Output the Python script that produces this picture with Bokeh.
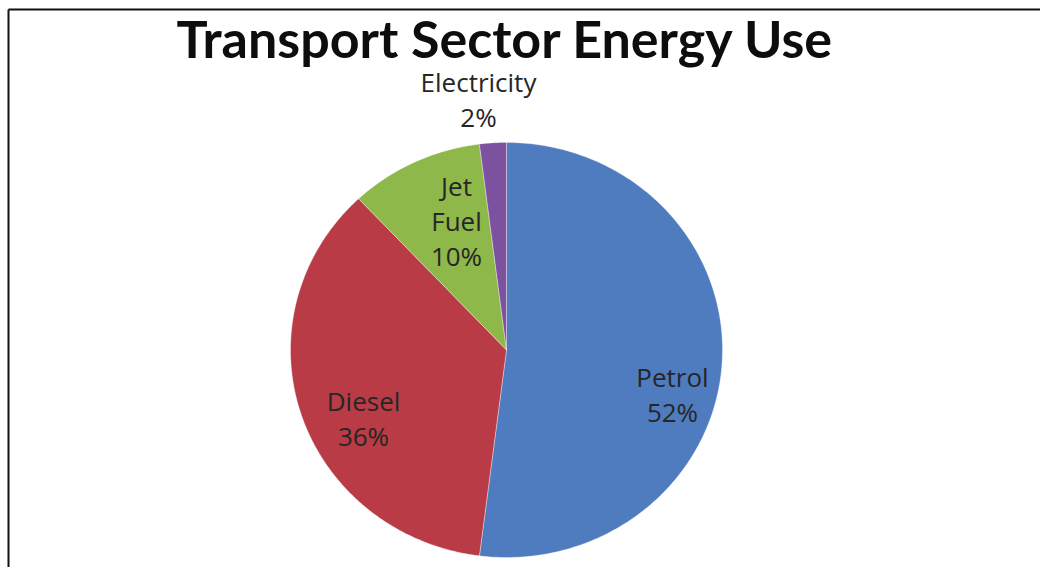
import numpy as np
from bokeh.plotting import figure
from bokeh.models import Range1d, ColumnDataSource
from bokeh.core.properties import value
from bokeh.embed import file_html
from bokeh.resources import INLINE

# ---- data ----
categories = ["Petrol", "Diesel", "Jet\nFuel", "Electricity"]
percentages = [52, 36, 10, 2]
colors = ["#4F7BBF", "#B93B45", "#8EB84A", "#7B51A0"]
title_text = "Transport Sector Energy Use"

# ---- layout constants (screen pixels, y measured from top) ----
W, H = 1040, 567
CX, CY = 506, 349.5
RX, RY = 216, 207.5
label_pos = [(672, 394), (363, 418), (456, 220), (478, 99)]
LINE_STEP = 35

p = figure(width=W, height=H, output_backend="svg", toolbar_location=None,
           x_range=Range1d(0, W), y_range=Range1d(0, H), min_border=0)
p.axis.visible = False
p.grid.visible = False
p.outline_line_color = None
p.background_fill_color = "white"
p.border_fill_color = "white"

# pie slices (clockwise from 12 o'clock)
vals = np.array(percentages, dtype=float)
fr = vals / vals.sum()
ends = np.cumsum(fr)
starts = ends - fr
xs, ys = [], []
for s, e in zip(starts, ends):
    t = np.linspace(np.pi / 2 - 2 * np.pi * s, np.pi / 2 - 2 * np.pi * e, 200)
    xs.append(np.concatenate([[CX], CX + RX * np.cos(t)]).tolist())
    ys.append(np.concatenate([[H - CY], (H - CY) + RY * np.sin(t)]).tolist())
p.patches(xs, ys, fill_color=colors, line_color="white", line_width=0.6, line_alpha=0.6)

# labels (one text line per glyph row)
lx, ly, lt = [], [], []
for (px, py), c, v in zip(label_pos, categories, percentages):
    lines = c.split("\n") + [f"{v}%"]
    n = len(lines)
    for i, ln in enumerate(lines):
        lx.append(px)
        ly.append(H - (py + (i - (n - 1) / 2) * LINE_STEP))
        lt.append(ln)
lab = ColumnDataSource(dict(x=lx, y=ly, t=lt))
p.text("x", "y", text="t", source=lab, text_align="center", text_baseline="middle",
       text_font=value("Open Sans"), text_font_size="26px", text_color="#262626")

# title
p.text([505], [H - 37], text=[title_text], text_align="center", text_baseline="alphabetic",
       text_font=value("Lato"), text_font_style="bold", text_font_size="52px",
       text_color="#0d0d0d")

# frame lines (left and top)
p.segment(x0=[8, 8], y0=[0, H - 9], x1=[8, W], y1=[H - 9, H - 9],
          line_color="#111111", line_width=2)

open("out.html", "w").write(file_html(p, INLINE))
